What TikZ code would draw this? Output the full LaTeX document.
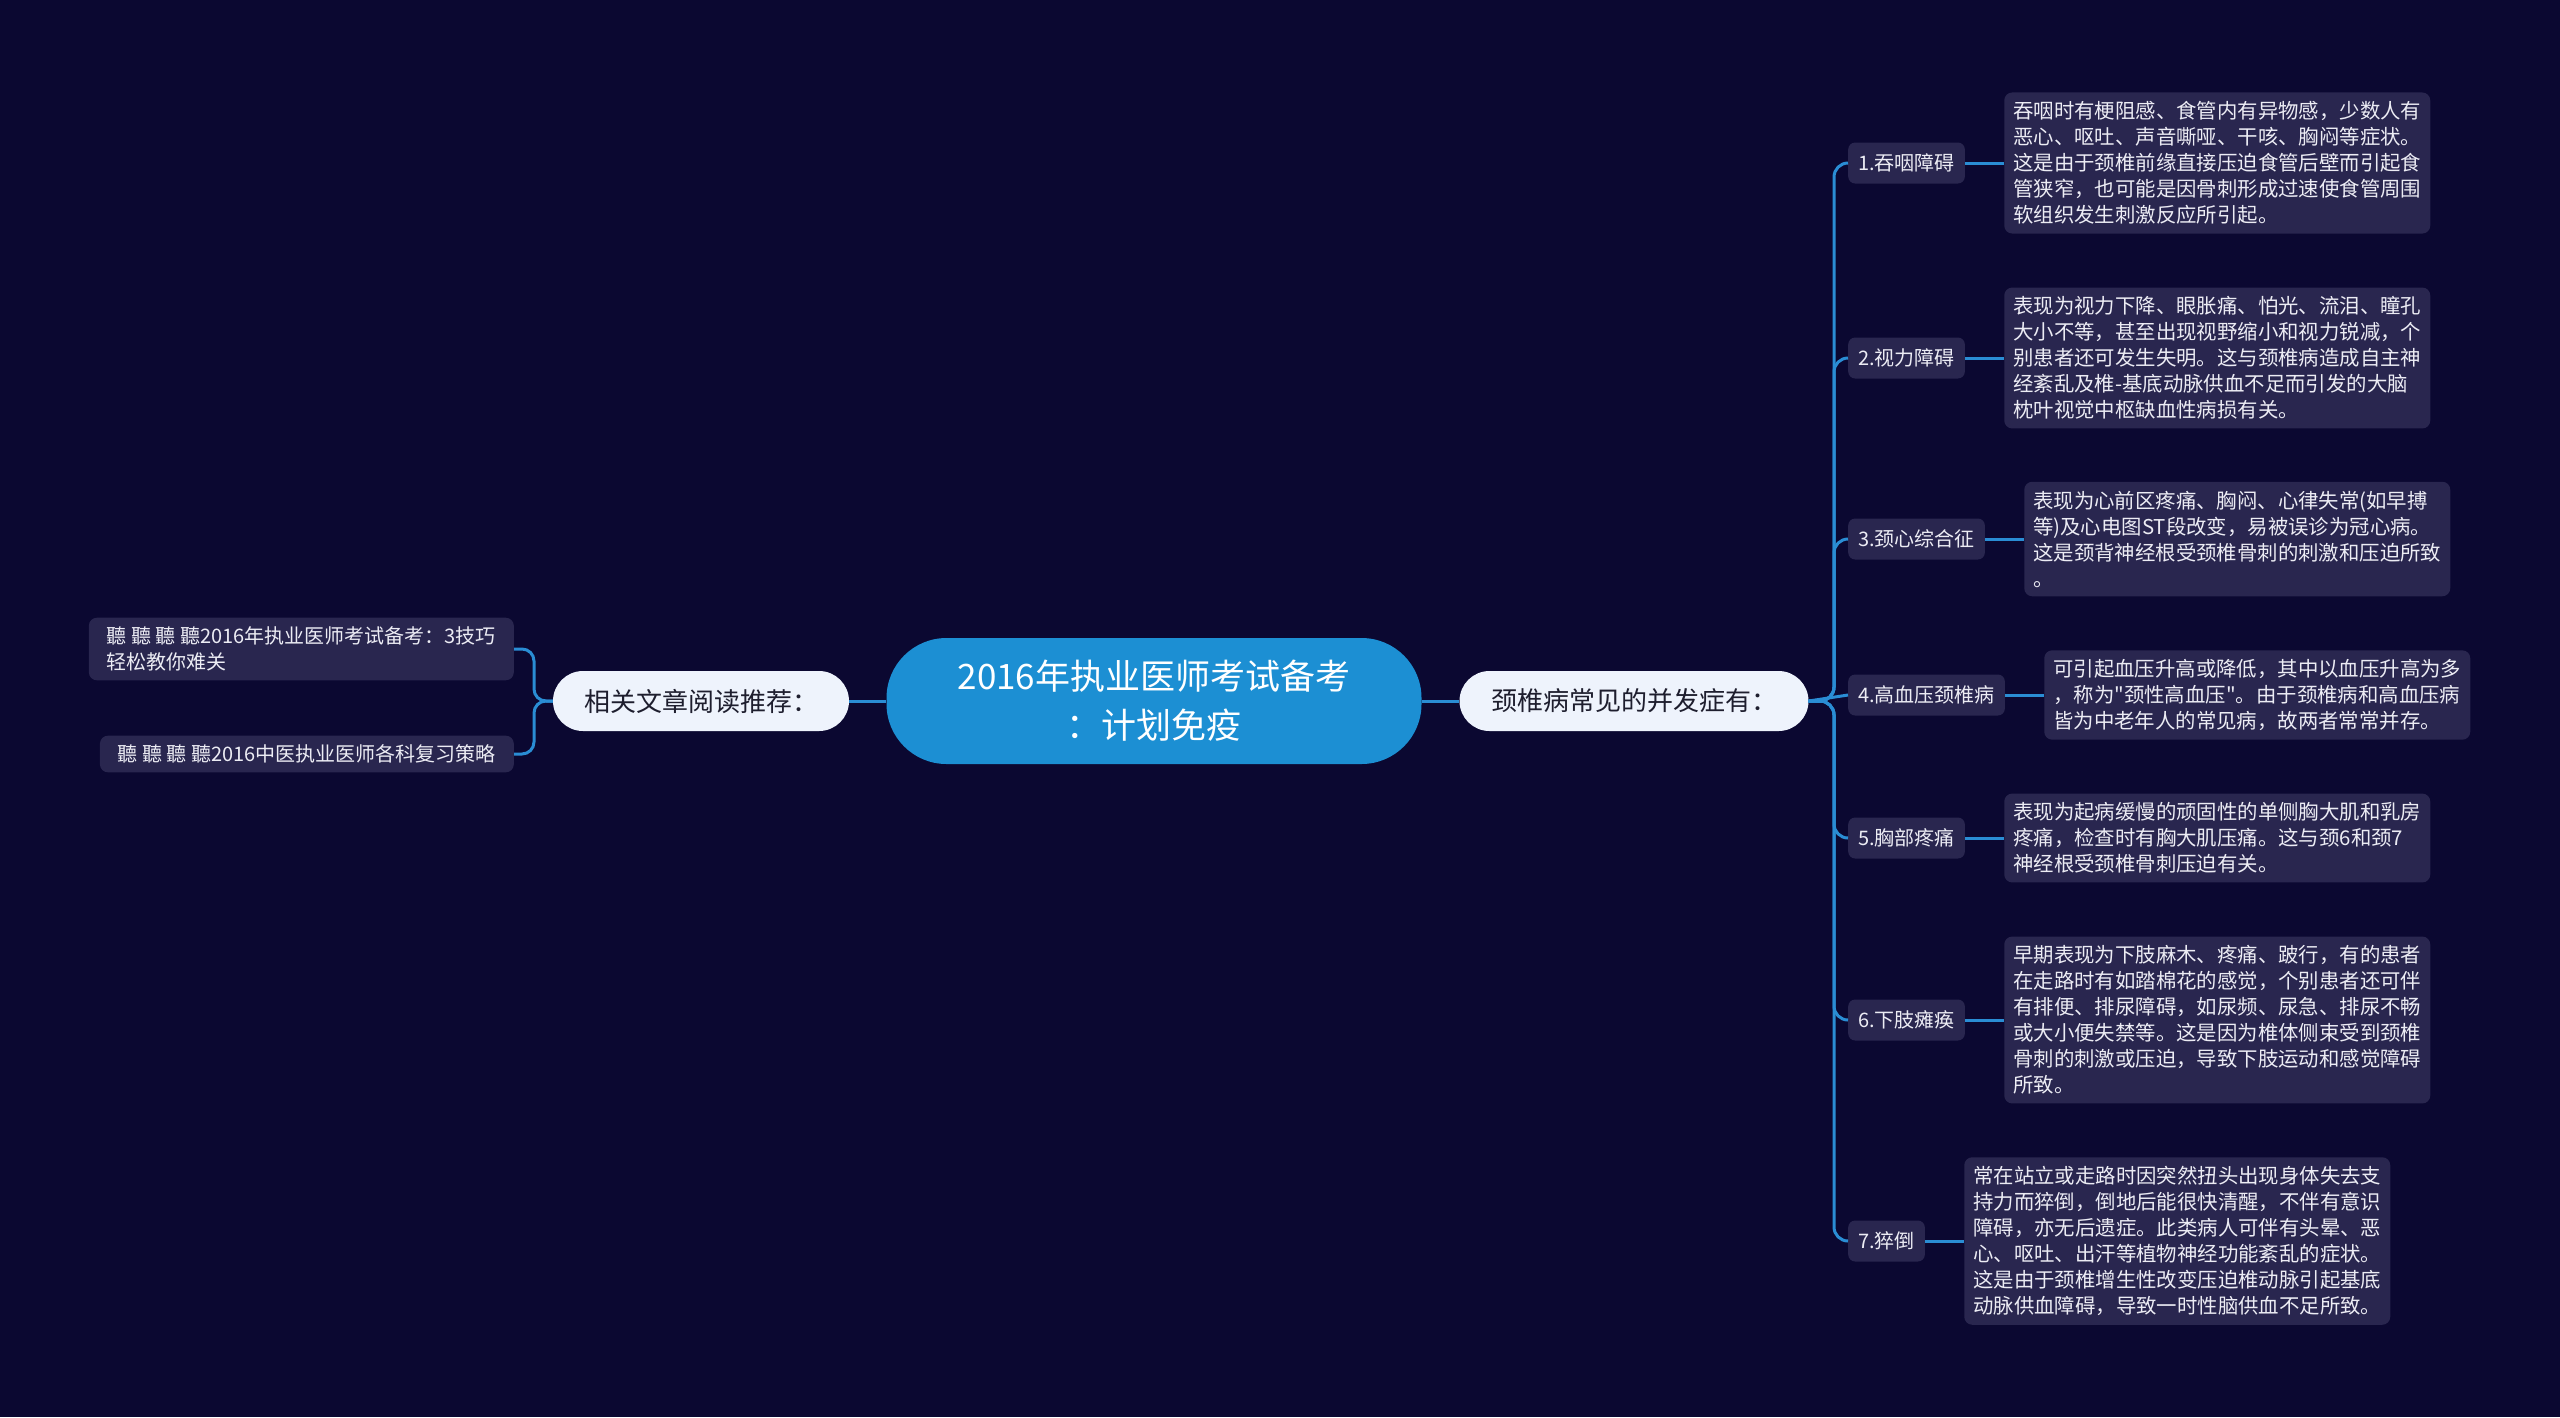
\documentclass[tikz,border=0pt]{standalone}
\usepackage{fontspec}
\setmainfont{Noto Sans CJK SC}[Ligatures=TeXOff]
\usetikzlibrary{positioning}
\definecolor{bg}{HTML}{0B0831}
\definecolor{boxfill}{HTML}{29264F}
\definecolor{linkblue}{HTML}{2A8DD4}
\definecolor{rootblue}{HTML}{1C8FD3}
\definecolor{pale}{HTML}{EEF3FC}
\definecolor{darktext}{HTML}{1E1E2E}
\definecolor{lighttext}{HTML}{ECECF4}
\begin{document}
\begin{tikzpicture}[x=1pt,y=-1pt,
  rootnode/.style={fill=rootblue, text=white, rounded corners=60pt, minimum width=535pt, minimum height=126pt, align=center, inner sep=0pt, font=\fontsize{35}{49}\selectfont},
  mainnode/.style={fill=pale, text=darktext, rounded corners=30pt, minimum height=60pt, inner sep=0pt, font=\fontsize{26}{30}\selectfont},
  subnode/.style={fill=boxfill, text=lighttext, rounded corners=7pt, minimum height=41pt, inner xsep=10pt, inner ysep=0pt, font=\fontsize{20}{26}\selectfont},
  detailnode/.style={fill=boxfill, text=lighttext, rounded corners=8pt, align=left, inner xsep=9pt, inner ysep=9pt, font=\fontsize{20.4}{26}\selectfont},
  leftnode/.style={fill=boxfill, text=lighttext, rounded corners=8pt, align=left, inner xsep=18pt, inner ysep=9pt, font=\fontsize{20}{26}\selectfont},
  link/.style={draw=linkblue, line width=3pt},
]
\fill[bg] (0,0) rectangle (2560,1417);
\useasboundingbox (0,0) rectangle (2560,1417);

\node[rootnode] (root) at (1154,701) {2016年执业医师考试备考\\：计划免疫};
\node[mainnode, minimum width=349pt] (rn) at (1634,701) {颈椎病常见的并发症有：};
\node[mainnode, minimum width=296pt] (ln) at (701,701) {相关文章阅读推荐：};

\draw[link] (root.east) -- (rn.west);
\draw[link] (root.west) -- (ln.east);

% right sub nodes
\node[subnode, anchor=west] (s1) at (1848,163) {1.吞咽障碍};
\node[subnode, anchor=west] (s2) at (1848,358) {2.视力障碍};
\node[subnode, anchor=west] (s3) at (1848,539) {3.颈心综合征};
\node[subnode, anchor=west] (s4) at (1848,695) {4.高血压颈椎病};
\node[subnode, anchor=west] (s5) at (1848,838) {5.胸部疼痛};
\node[subnode, anchor=west] (s6) at (1848,1020) {6.下肢瘫痪};
\node[subnode, anchor=west] (s7) at (1848,1241) {7.猝倒};

\node[detailnode, right=39pt of s1] (d1) {吞咽时有梗阻感、食管内有异物感，少数人有\\恶心、呕吐、声音嘶哑、干咳、胸闷等症状。\\这是由于颈椎前缘直接压迫食管后壁而引起食\\管狭窄，也可能是因骨刺形成过速使食管周围\\软组织发生刺激反应所引起。};
\node[detailnode, right=39pt of s2] (d2) {表现为视力下降、眼胀痛、怕光、流泪、瞳孔\\大小不等，甚至出现视野缩小和视力锐减，个\\别患者还可发生失明。这与颈椎病造成自主神\\经紊乱及椎-基底动脉供血不足而引发的大脑\\枕叶视觉中枢缺血性病损有关。};
\node[detailnode, right=39pt of s3] (d3) {表现为心前区疼痛、胸闷、心律失常(如早搏\\等)及心电图ST段改变，易被误诊为冠心病。\\这是颈背神经根受颈椎骨刺的刺激和压迫所致\\。};
\node[detailnode, right=39pt of s4] (d4) {可引起血压升高或降低，其中以血压升高为多\\，称为"颈性高血压"。由于颈椎病和高血压病\\皆为中老年人的常见病，故两者常常并存。};
\node[detailnode, right=39pt of s5] (d5) {表现为起病缓慢的顽固性的单侧胸大肌和乳房\\疼痛，检查时有胸大肌压痛。这与颈6和颈7\\神经根受颈椎骨刺压迫有关。};
\node[detailnode, right=39pt of s6] (d6) {早期表现为下肢麻木、疼痛、跛行，有的患者\\在走路时有如踏棉花的感觉，个别患者还可伴\\有排便、排尿障碍，如尿频、尿急、排尿不畅\\或大小便失禁等。这是因为椎体侧束受到颈椎\\骨刺的刺激或压迫，导致下肢运动和感觉障碍\\所致。};
\node[detailnode, right=39pt of s7] (d7) {常在站立或走路时因突然扭头出现身体失去支\\持力而猝倒，倒地后能很快清醒，不伴有意识\\障碍，亦无后遗症。此类病人可伴有头晕、恶\\心、呕吐、出汗等植物神经功能紊乱的症状。\\这是由于颈椎增生性改变压迫椎动脉引起基底\\动脉供血障碍，导致一时性脑供血不足所致。};

\coordinate (rh) at (1834,701);
\foreach \s in {s1,s2,s3,s5,s6,s7}{
  \draw[link, rounded corners=14pt] (rn.east) -- (rh) |- (\s.west);
}
\draw[link] (rn.east) -- (s4.west);
\foreach \i in {1,...,7}{
  \draw[link] (s\i.east) -- (d\i.west);
}

% left
\node[leftnode, anchor=east] (l1) at (514,649) {聽 聽 聽 聽2016年执业医师考试备考：3技巧\\轻松教你难关};
\node[leftnode, anchor=east] (l2) at (514,754) {聽 聽 聽 聽2016中医执业医师各科复习策略};
\coordinate (lh) at (534,701);
\draw[link, rounded corners=12pt] (ln.west) -- (lh) |- (l1.east);
\draw[link, rounded corners=12pt] (ln.west) -- (lh) |- (l2.east);
\end{tikzpicture}
\end{document}
